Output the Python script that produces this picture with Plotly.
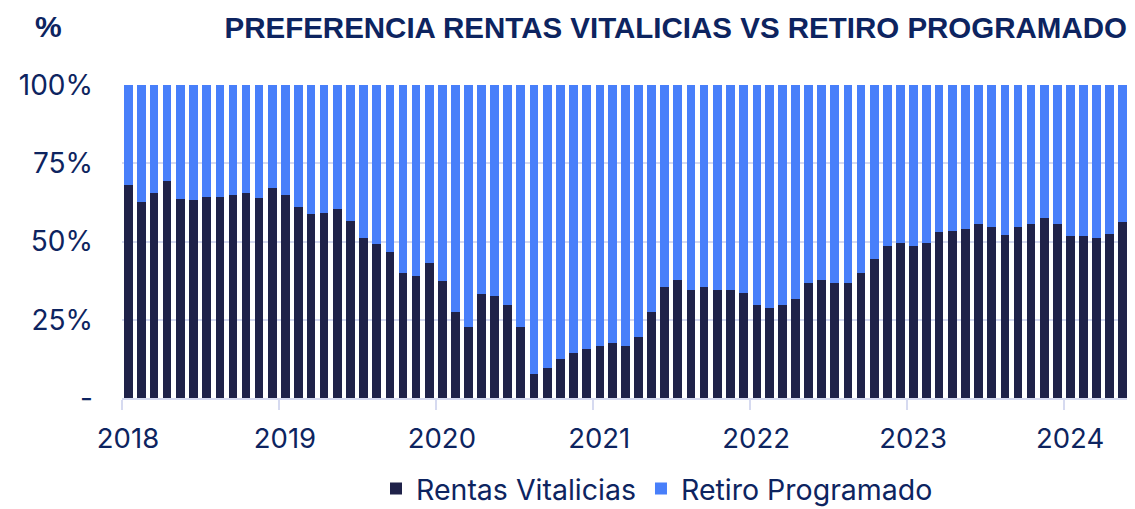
import plotly.graph_objects as go
import pandas as pd

months = pd.date_range("2018-01-01", "2024-06-01", freq="MS").strftime("%Y-%m-%d").tolist()

rentas_vitalicias = [
    67.9, 62.6, 65.6, 69.2, 63.7, 63.4, 64.1, 64.1, 64.7, 65.5, 64.0, 67.0,
    64.7, 60.9, 58.8, 59.0, 60.5, 56.5, 51.2, 49.3, 46.5, 40.0, 39.1, 43.0,
    37.5, 27.5, 22.7, 33.1, 32.7, 29.6, 22.7, 7.7, 9.7, 12.6, 14.5, 15.7,
    16.6, 17.6, 16.6, 19.6, 27.5, 35.6, 37.7, 34.6, 35.6, 34.6, 34.6, 33.7,
    29.6, 28.6, 29.6, 31.7, 36.8, 37.7, 36.8, 36.8, 39.8, 44.4, 48.7, 49.6,
    48.7, 49.6, 53.1, 53.5, 54.1, 55.7, 54.6, 52.2, 54.7, 55.7, 57.6, 55.7,
    51.7, 51.7, 51.2, 52.4, 56.3, 56.6,
]
retiro_programado = [
    32.1, 37.4, 34.4, 30.8, 36.3, 36.6, 35.9, 35.9, 35.3, 34.5, 36.0, 33.0,
    35.3, 39.1, 41.2, 41.0, 39.5, 43.5, 48.8, 50.7, 53.5, 60.0, 60.9, 57.0,
    62.5, 72.5, 77.3, 66.9, 67.3, 70.4, 77.3, 92.3, 90.3, 87.4, 85.5, 84.3,
    83.4, 82.4, 83.4, 80.4, 72.5, 64.4, 62.3, 65.4, 64.4, 65.4, 65.4, 66.3,
    70.4, 71.4, 70.4, 68.3, 63.2, 62.3, 63.2, 63.2, 60.2, 55.6, 51.3, 50.4,
    51.3, 50.4, 46.9, 46.5, 45.9, 44.3, 45.4, 47.8, 45.3, 44.3, 42.4, 44.3,
    48.3, 48.3, 48.8, 47.6, 43.7, 43.4,
]

year_ticks = ["2018-01-01", "2019-01-01", "2020-01-01", "2021-01-01",
              "2022-01-01", "2023-01-01", "2024-01-01"]
year_labels = ["2018", "2019", "2020", "2021", "2022", "2023", "2024"]
y_ticks = [0, 25, 50, 75, 100]
y_labels = ["-", "25%", "50%", "75%", "100%"]

NAVY_TXT = "#0d2460"
DARK = "#1f2249"
BLUE = "#487ffa"
GRID = "#d6daf0"
FONT = "Inter, Roboto, Arial, sans-serif"
BOLD_FONT = "Liberation Sans, Arial, sans-serif"
DAY = 86400000

W, H = 1127, 501  # page body has an 8px margin

fig = go.Figure()
fig.add_trace(go.Bar(
    x=months, y=rentas_vitalicias, name="Rentas Vitalicias",
    marker=dict(color=DARK, line=dict(width=0)),
    xperiod="M1", xperiodalignment="middle", width=20 * DAY,
))
fig.add_trace(go.Bar(
    x=months, y=retiro_programado, name="Retiro Programado",
    marker=dict(color=BLUE, line=dict(width=0)),
    xperiod="M1", xperiodalignment="middle", width=20 * DAY,
))

fig.update_layout(
    barmode="stack",
    width=W, height=H,
    margin=dict(l=114, r=0, t=77, b=111, autoexpand=False),
    paper_bgcolor="white", plot_bgcolor="white",
    font=dict(family=FONT, color=NAVY_TXT, size=27),
    showlegend=True,
    legend=dict(
        orientation="h", xref="container", yref="paper",
        x=649 / W, xanchor="center", y=(390 - 481) / 313, yanchor="middle",
        font=dict(family=FONT, size=28.5, color=NAVY_TXT),
        traceorder="normal", itemwidth=30,
        bgcolor="rgba(0,0,0,0)", borderwidth=0,
    ),
    title=dict(
        text="<b>PREFERENCIA RENTAS VITALICIAS VS RETIRO PROGRAMADO</b>",
        xref="container", yref="container",
        x=1119 / W, xanchor="right", y=1 - 20 / H, yanchor="middle",
        font=dict(family=BOLD_FONT, size=29.5, color=NAVY_TXT),
    ),
    annotations=[dict(
        text="<b>%</b>", xref="paper", yref="paper",
        x=(48 - 122) / 1013, y=(398 - 26) / 313,
        xanchor="center", yanchor="middle", showarrow=False,
        font=dict(family=BOLD_FONT, size=30, color=NAVY_TXT),
    )],
)

fig.update_xaxes(
    type="date",
    range=["2018-01-01", "2024-06-14"],
    tickmode="array", tickvals=year_ticks, ticktext=year_labels,
    showgrid=False, showline=True, linecolor=GRID, linewidth=2,
    ticks="outside", ticklen=10, tickwidth=2, tickcolor=GRID,
    ticklabelshift=6, ticklabelstandoff=5,
    tickfont=dict(family=FONT, size=27.5, color=NAVY_TXT),
    zeroline=False, automargin=False,
)
fig.update_yaxes(
    range=[0, 100],
    tickmode="array", tickvals=y_ticks, ticktext=y_labels,
    showgrid=True, gridcolor=GRID, gridwidth=2,
    showline=False, zeroline=False,
    ticks="", ticklabelstandoff=28,
    tickfont=dict(family=FONT, size=28, color=NAVY_TXT),
    automargin=False,
)

fig.write_html("out.html")
